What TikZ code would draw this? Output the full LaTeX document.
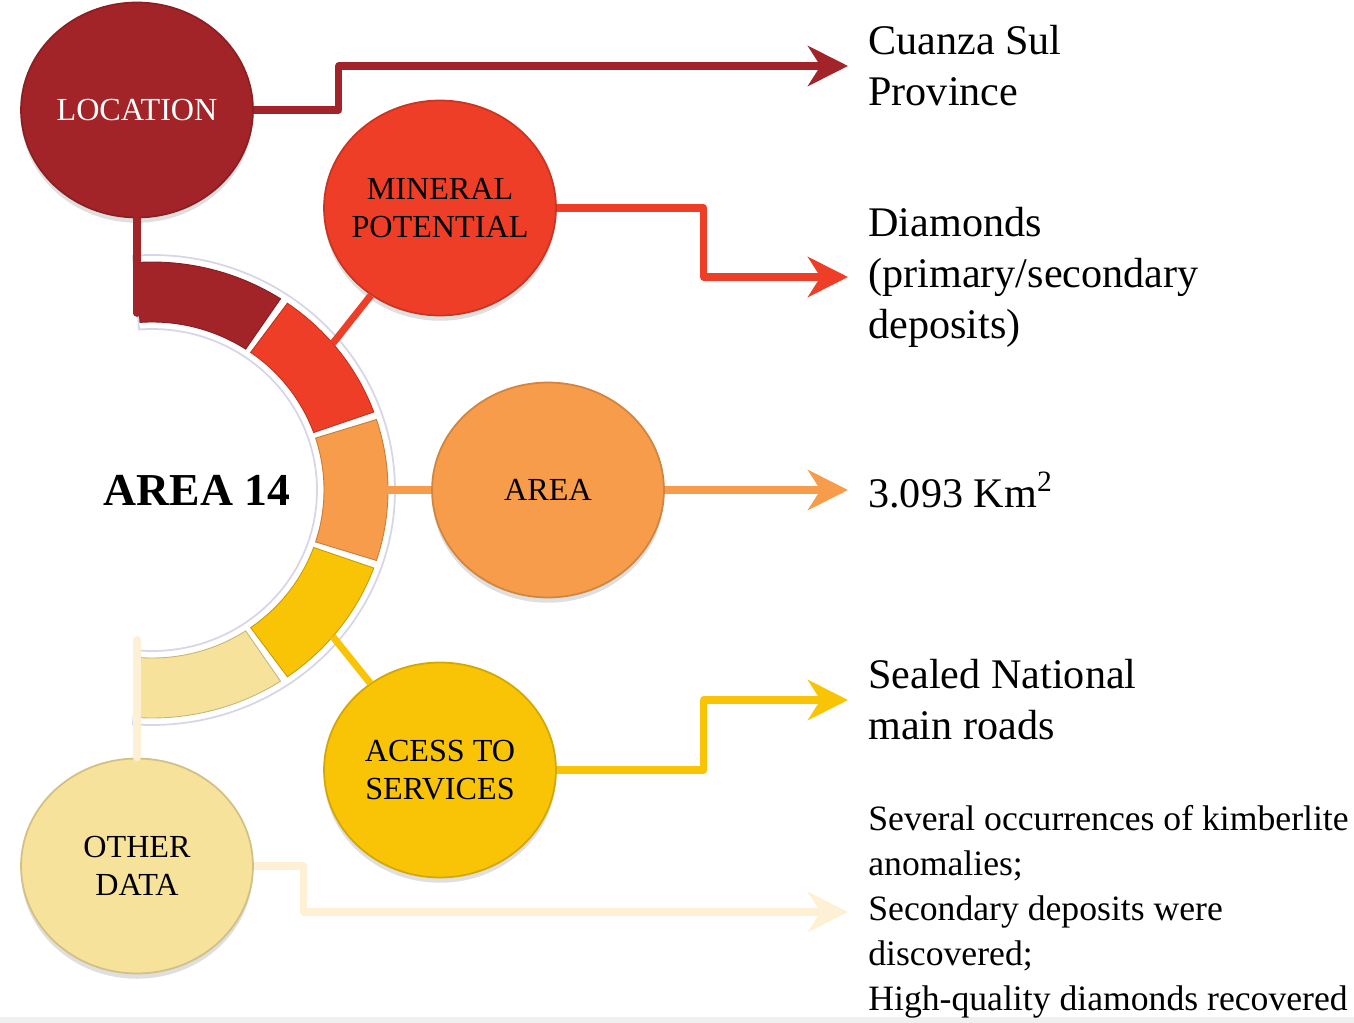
\documentclass[tikz,border=0pt]{standalone}
\usepackage{fontspec}
\setmainfont{Liberation Serif}
\usetikzlibrary{arrows.meta,shapes.geometric,shadows,positioning}
\definecolor{locred}{RGB}{163,36,40}
\definecolor{minred}{RGB}{238,62,40}
\definecolor{areaorange}{RGB}{246,156,74}
\definecolor{accyellow}{RGB}{248,196,5}
\definecolor{othyellow}{RGB}{247,226,155}
\definecolor{othline}{RGB}{253,240,212}
\definecolor{ringedge}{RGB}{214,214,232}
\begin{document}
\begin{tikzpicture}[x=0.02cm,y=0.02cm,
  blob/.style={ellipse,minimum width=4.64cm,minimum height=4.3cm,inner sep=-0.5cm,align=center,
    line width=1pt,font=\fontsize{18.3}{21.5}\selectfont,
    drop shadow={opacity=.25,shadow xshift=0pt,shadow yshift=-3pt}},
  link/.style={line width=4pt,line join=round},
  tip/.style={link,arrows={-Stealth[length=0.8cm,width=0.8cm,inset=0.25cm]}},
  info/.style={right=0.4cm of #1,inner sep=0pt,align=left,font=\fontsize{24}{29}\selectfont}]
\useasboundingbox (0,0) rectangle (1354,-1023);
\fill[gray!12] (0,-1017) rectangle (1354,-1023);
\coordinate (ring) at (152,-490);
\fill[white,draw=ringedge,line width=1pt] ([shift={(94.5:243 and 235)}]ring) arc[start angle=94.5,end angle=-94.5,x radius=243,y radius=235]
  -- ([shift={(-94.5:165 and 161)}]ring) arc[start angle=-94.5,end angle=94.5,x radius=165,y radius=161] -- cycle;
\foreach \a/\b/\c in {94/57/locred,55/20/minred,18/-18/areaorange,-20/-55/accyellow,-57/-94/othyellow}
  \fill[\c,draw=\c!80!black,line width=.5pt] ([shift={(\a:236 and 228)}]ring) arc[start angle=\a,end angle=\b,x radius=236,y radius=228]
    -- ([shift={(\b:172 and 168)}]ring) arc[start angle=\b,end angle=\a,x radius=172,y radius=168] -- cycle;
\node[font=\fontsize{26}{30}\selectfont\bfseries] (area14) at (197,-490) {AREA 14};
\node[blob,fill=locred,draw=locred!85!black,text=white] (loc) at (137,-110) {LOCATION};
\node[blob,fill=minred,draw=minred!85!black] (min) at (440,-208) {MINERAL\\POTENTIAL};
\node[blob,fill=areaorange,draw=areaorange!85!black] (area) at (548,-490) {AREA};
\node[blob,fill=accyellow,draw=accyellow!85!black] (acc) at (440,-770) {ACESS TO\\SERVICES};
\node[blob,fill=othyellow,draw=othyellow!85!black] (oth) at (137,-866) {OTHER\\DATA};
\coordinate (tipA) at (848,-66);
\coordinate (tipB) at (848,-277);
\coordinate (tipC) at (848,-490);
\coordinate (tipD) at (848,-700);
\coordinate (tipE) at (848,-912);
\draw[link,locred,line cap=round] (loc.south) -- ++(0,-95);
\draw[link,minred] ([shift={(40:236 and 228)}]ring) -- (min);
\draw[link,areaorange] ([shift={(0:216 and 210)}]ring) -- (area.west);
\draw[link,accyellow] ([shift={(-40:236 and 228)}]ring) -- (acc);
\draw[link,othline,line cap=round] (oth.north) -- ++(0,118);
\draw[tip,locred] (loc.east) -- ++(85,0) |- (tipA);
\draw[tip,minred] (min.east) -- ++(147,0) |- (tipB);
\draw[tip,areaorange] (area.east) -- (tipC);
\draw[tip,accyellow] (acc.east) -- ++(147,0) |- (tipD);
\draw[tip,othline] (oth.east) -- ++(50,0) |- (tipE);
\node[info=tipA] (cuanza) {Cuanza Sul\\Province};
\node[info=tipB] (diamonds) {Diamonds\\(primary/secondary\\deposits)};
\node[info=tipC] (size) {3.093 Km\textsuperscript{2}};
\node[info=tipD] (roads) {Sealed National\\main roads};
\node[info=tipE,font=\fontsize{20.3}{25.6}\selectfont] (other) {Several occurrences of kimberlite\\anomalies;\\Secondary deposits were\\discovered;\\High-quality diamonds recovered};
\end{tikzpicture}
\end{document}
